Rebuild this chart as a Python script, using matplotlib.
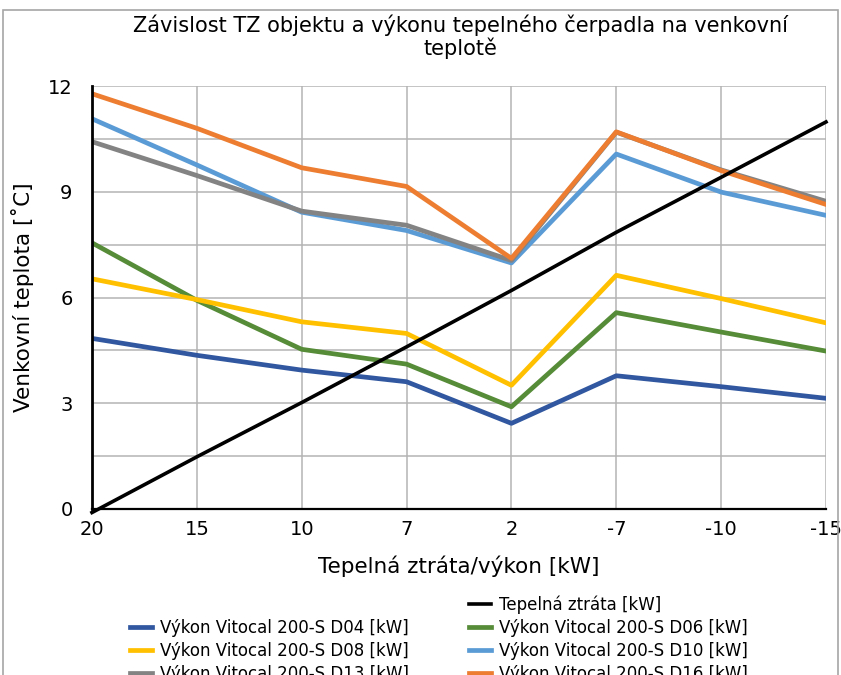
import matplotlib

matplotlib.use("Agg")
import matplotlib.pyplot as plt
from matplotlib.lines import Line2D
from matplotlib.patches import Rectangle
from matplotlib.ticker import MultipleLocator

plt.rcParams["font.family"] = ["DejaVu Sans"]

# outdoor temperature categories (x axis, shown as labels)
temps = ["20", "15", "10", "7", "2", "-7", "-10", "-15"]

# heat loss of the building [kW]
heat_loss = [-0.1, 1.48, 3.02, 4.6, 6.2, 7.85, 9.41, 10.98]

# heat pump output per model [kW]
d04 = [4.84, 4.36, 3.94, 3.61, 2.43, 3.78, 3.47, 3.14]
d06 = [7.55, 5.92, 4.53, 4.11, 2.90, 5.57, 5.02, 4.48]
d08 = [6.53, 5.94, 5.31, 4.98, 3.51, 6.63, 5.97, 5.28]
d10 = [11.07, 9.76, 8.42, 7.90, 6.98, 10.07, 8.99, 8.33]
d13 = [10.42, 9.46, 8.45, 8.05, 7.05, 10.69, 9.62, 8.73]
d16 = [11.78, 10.80, 9.68, 9.15, 7.11, 10.70, 9.60, 8.64]

series = [
    ("Výkon Vitocal 200-S D04 [kW]", d04, "#30579f"),
    ("Výkon Vitocal 200-S D06 [kW]", d06, "#568b37"),
    ("Výkon Vitocal 200-S D08 [kW]", d08, "#ffc000"),
    ("Výkon Vitocal 200-S D10 [kW]", d10, "#5b9bd5"),
    ("Výkon Vitocal 200-S D13 [kW]", d13, "#838383"),
    ("Výkon Vitocal 200-S D16 [kW]", d16, "#ed7d31"),
]

fig = plt.figure(figsize=(8.41, 6.75), dpi=100)
ax = fig.add_axes([92 / 841, 1 - 509 / 675, (826 - 92) / 841, (509 - 86) / 675])

x = list(range(len(temps)))
handles = {}
for name, vals, color in series:
    (h,) = ax.plot(x, vals, color=color, linewidth=3.4, solid_joinstyle="round", zorder=3)
    handles[name] = h
(h_loss,) = ax.plot(x, heat_loss, color="black", linewidth=2.6, zorder=4, clip_on=False)

ax.set_xlim(0, len(temps) - 1)
ax.set_ylim(0, 12)
ax.set_xticks(x)
ax.set_xticklabels(temps)
ax.yaxis.set_major_locator(MultipleLocator(3))
ax.yaxis.set_minor_locator(MultipleLocator(1.5))
ax.grid(True, which="both", color="#b4b4b4", linewidth=1.1)
ax.tick_params(axis="both", which="both", length=0, labelsize=14, pad=8)
ax.tick_params(axis="y", pad=14)

for side in ("top", "right"):
    ax.spines[side].set_visible(False)
ax.spines["left"].set_linewidth(2.0)
ax.spines["bottom"].set_linewidth(1.6)
ax.spines["left"].set_zorder(5)

ax.set_xlabel("Tepelná ztráta/výkon [kW]", fontsize=15.5, labelpad=12)
ax.set_ylabel("Venkovní teplota [˚C]", fontsize=15.5, labelpad=10)
fig.text(0.547, 0.979, "Závislost TZ objektu a výkonu tepelného čerpadla na venkovní\nteplotě",
         ha="center", va="top", fontsize=15, linespacing=1.1)

# legend: column-first fill, first cell left empty
blank = Line2D([], [], color="none")
order = [
    (blank, " "),
    (handles[series[0][0]], series[0][0]),
    (handles[series[2][0]], series[2][0]),
    (handles[series[4][0]], series[4][0]),
    (h_loss, "Tepelná ztráta [kW]"),
    (handles[series[1][0]], series[1][0]),
    (handles[series[3][0]], series[3][0]),
    (handles[series[5][0]], series[5][0]),
]
fig.legend([h for h, _ in order], [l for _, l in order], ncol=2,
           loc="upper left", bbox_to_anchor=(122 / 841, 1 - 587 / 675),
           frameon=False, fontsize=12, handlelength=1.3, handletextpad=0.5,
           columnspacing=3.6, labelspacing=0.3, borderpad=0)

# chart area border
fig.patches.append(Rectangle((3 / 841, -0.1), (838 - 3) / 841, 1.1 - 10 / 675,
                             transform=fig.transFigure, fill=False,
                             edgecolor="#a6a6a6", linewidth=1.2))

fig.savefig("out.png", dpi=100)
